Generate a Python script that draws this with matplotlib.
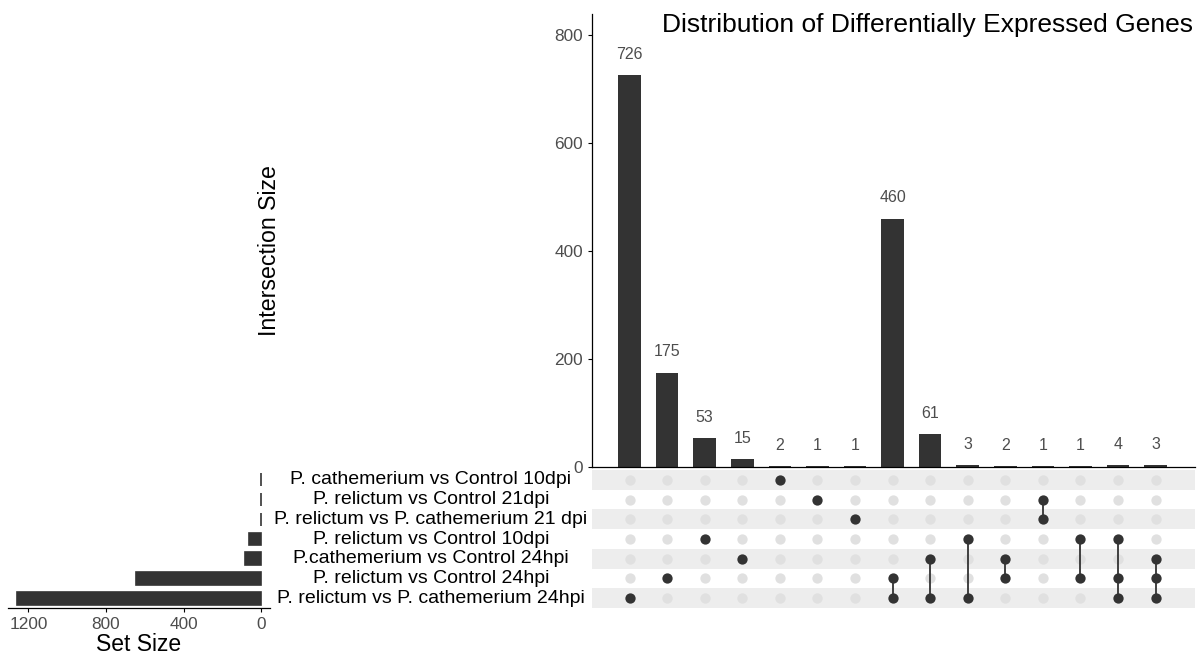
import matplotlib
matplotlib.use('Agg')
import matplotlib.pyplot as plt
import matplotlib.transforms as mtransforms
import numpy as np

plt.rcParams['font.family'] = ['Liberation Sans', 'DejaVu Sans']

SET_NAMES = [
    'P. cathemerium vs Control 10dpi',
    'P. relictum vs Control 21dpi',
    'P. relictum vs P. cathemerium 21 dpi',
    'P. relictum vs Control 10dpi',
    'P.cathemerium vs Control 24hpi',
    'P. relictum vs Control 24hpi',
    'P. relictum vs P. cathemerium 24hpi',
]

# each intersection: list of member set indices (0 = top row)
INTERSECTIONS = [[6], [5], [3], [4], [0], [1], [2],
                 [5, 6], [4, 6], [3, 6], [4, 5], [1, 2], [3, 5],
                 [3, 5, 6], [4, 5, 6]]
INTERSECTION_SIZES = [726, 175, 53, 15, 2, 1, 1, 460, 61, 3, 2, 1, 1, 4, 3]
SET_SIZES = [2, 2, 2, 61, 81, 645, 1257]

Y_TICKS = [0, 200, 400, 600, 800]
SET_TICKS = [1200, 800, 400, 0]

BAR_COLOUR = '#333333'
DOT_OFF_COLOUR = '#E0E0E0'
STRIPE_COLOUR = '#EDEDED'
TICK_LABEL_COLOUR = '#4D4D4D'

n_cols = len(INTERSECTION_SIZES)
n_rows = len(SET_NAMES)
cols = np.arange(1, n_cols + 1)
XLIM = (0, n_cols + 1.05)

fig = plt.figure(figsize=(12.03, 6.59), dpi=100)

# intersection size bars
ax_bar = fig.add_axes([592/1203, 1-467/659, 603/1203, 453/659])
ax_bar.bar(cols, INTERSECTION_SIZES, width=0.6, color=BAR_COLOUR)
for x, v in zip(cols, INTERSECTION_SIZES):
    ax_bar.annotate(str(v), (x, v), xytext=(0, 15), textcoords='offset points',
                    ha='center', va='center', fontsize=11.5, color=TICK_LABEL_COLOUR)
ax_bar.set_xlim(*XLIM)
ax_bar.set_ylim(0, 839)
ax_bar.set_yticks(Y_TICKS)
ax_bar.set_xticks([])
ax_bar.tick_params(axis='y', labelsize=12.4, labelcolor=TICK_LABEL_COLOUR, length=3)
for s in ['top', 'right']:
    ax_bar.spines[s].set_visible(False)
ax_bar.spines['left'].set_linewidth(0.9)
ax_bar.spines['bottom'].set_linewidth(0.9)

fig.text(928/1203, 1-25/659, 'Distribution of Differentially Expressed Genes',
         ha='center', va='center', fontsize=19)
fig.text(270/1203, 1-251/659, 'Intersection Size', rotation=90,
         ha='center', va='center', fontsize=16.7)

# matrix of set membership
ax_mat = fig.add_axes([592/1203, 1-608/659, 603/1203, 138/659])
ax_mat.set_xlim(*XLIM)
ax_mat.set_ylim(n_rows - 0.5, -0.5)
for r in range(0, n_rows, 2):
    ax_mat.axhspan(r - 0.5, r + 0.5, color=STRIPE_COLOUR, lw=0, zorder=0)
for c, members in zip(cols, INTERSECTIONS):
    off = [r for r in range(n_rows) if r not in members]
    ax_mat.scatter([c] * len(off), off, s=55, color=DOT_OFF_COLOUR, zorder=2, lw=0)
    if len(members) > 1:
        ax_mat.plot([c, c], [min(members), max(members)], color=BAR_COLOUR,
                    lw=1.3, zorder=3)
    ax_mat.scatter([c] * len(members), members, s=55, color=BAR_COLOUR, zorder=4, lw=0)
ax_mat.axis('off')

# set size bars
ax_set = fig.add_axes([8/1203, 1-608/659, 262/1203, 138/659])
ax_set.barh(np.arange(n_rows), SET_SIZES, height=0.65, color=BAR_COLOUR,
            edgecolor=BAR_COLOUR, linewidth=1.2)
ax_set.set_ylim(n_rows - 0.5, -0.5)
ax_set.set_xlim(1305, -46)
ax_set.set_xticks(SET_TICKS)
ax_set.set_yticks([])
ax_set.tick_params(axis='x', labelsize=12.4, labelcolor=TICK_LABEL_COLOUR, length=3)
for s in ['top', 'right', 'left']:
    ax_set.spines[s].set_visible(False)
ax_set.spines['bottom'].set_linewidth(0.9)
ax_set.set_xlabel('Set Size', fontsize=16.5, labelpad=1)

# set names sit between the set size bars and the matrix
name_trans = mtransforms.blended_transform_factory(fig.transFigure, ax_set.transData)
for r, name in enumerate(SET_NAMES):
    ax_set.text(431/1203, r, name, transform=name_trans,
                ha='center', va='center', fontsize=14, clip_on=False)

fig.savefig('out.png', dpi=100)
